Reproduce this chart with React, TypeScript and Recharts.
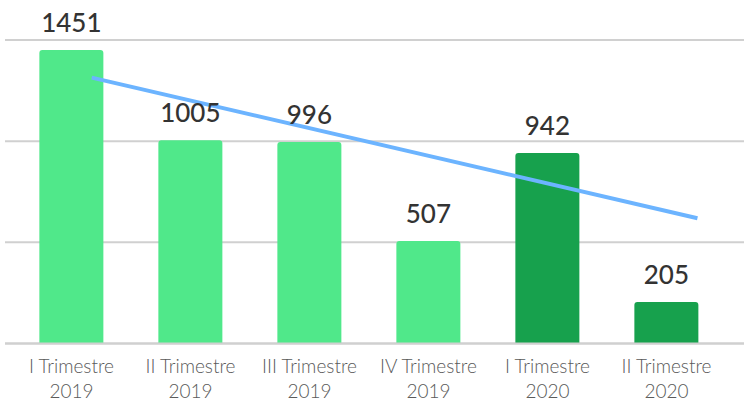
import React from "react";
import { ComposedChart, Bar, XAxis, YAxis, CartesianGrid, Cell, LabelList, Scatter } from "recharts";

const categories = ["I Trimestre|2019", "II Trimestre|2019", "III Trimestre|2019", "IV Trimestre|2019", "I Trimestre|2020", "II Trimestre|2020"];
const values = [1451, 1005, 996, 507, 942, 205];
const barColors = ["#50e88a", "#50e88a", "#50e88a", "#50e88a", "#17a14d", "#17a14d"];
const trendX = [0.17, 5.26];
const trendY = [1314, 619];
const yTicks = [0, 500, 1000, 1500];

const data = categories.map((c, i) => ({ name: c, value: values[i] }));
const trend = trendX.map((t, i) => ({ t, v: trendY[i] }));

const FONT = "Lato, 'Open Sans', sans-serif";

const Tick = (props: any) => {
  const { x, y, payload } = props;
  const [a, b] = String(payload.value).split("|");
  return (
    <g transform={`translate(${x},${y})`}>
      <text x={0} y={21} textAnchor="middle" fill="#5a5a5a" fontSize={19} fontWeight={300} fontFamily={FONT}>{a}</text>
      <text x={0} y={46} textAnchor="middle" fill="#5a5a5a" fontSize={19} fontWeight={300} fontFamily={FONT}>{b}</text>
    </g>
  );
};

export default function App() {
  return (
    <div style={{ position: "absolute", left: 0, top: 0 }}>
      <ComposedChart width={744} height={400} data={data} margin={{ top: 40, right: 0, left: 5, bottom: 0 }} barCategoryGap="23%">
        <CartesianGrid vertical={false} stroke="#d0d0d0" strokeWidth={2} />
        <XAxis dataKey="name" xAxisId="c" tick={<Tick />} tickLine={false} axisLine={{ stroke: "#d0d0d0", strokeWidth: 2 }} height={56.5} interval={0} padding={{ left: 7, right: 18 }} />
        <XAxis xAxisId="t" type="number" dataKey="t" domain={[-0.5, 5.5]} hide padding={{ left: 7, right: 18 }} />
        <YAxis hide domain={[0, 1500]} ticks={yTicks} />
        <Bar dataKey="value" xAxisId="c" isAnimationActive={false} radius={[3, 3, 0, 0]}>
          {data.map((d, i) => (
            <Cell key={i} fill={barColors[i]} />
          ))}
          <LabelList dataKey="value" position="top" offset={18} fill="#333" fontSize={26} fontWeight={500} fontFamily={FONT} />
        </Bar>
        <Scatter data={trend} xAxisId="t" dataKey="v" isAnimationActive={false} line={{ stroke: "#6cb4ff", strokeWidth: 4 }} shape={() => null} />
      </ComposedChart>
    </div>
  );
}
